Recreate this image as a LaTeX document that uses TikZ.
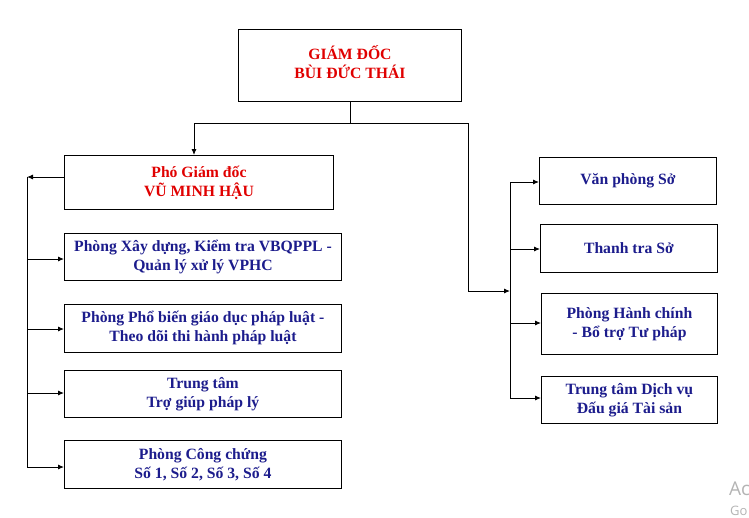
\documentclass[tikz,border=0pt]{standalone}
\usepackage{fontspec}
\setmainfont{Liberation Serif}
\newfontfamily\wmfont{Open Sans}
\usetikzlibrary{arrows.meta}
\definecolor{navy}{HTML}{1C1C8C}
\definecolor{redt}{HTML}{E00000}
\definecolor{wm}{HTML}{B4B4B4}
\tikzset{
  boxfont/.style={font=\bfseries\fontsize{15.7}{19}\selectfont},
  box/.style={draw=black, line width=0.9pt, inner sep=0pt, boxfont, text=navy, align=center, anchor=north west},
  redbox/.style={box, text=redt},
  conn/.style={line width=0.9pt, draw=black},
  arr/.style={conn, -{Latex[length=6pt,width=5pt]}},
}
\begin{document}
\begin{tikzpicture}[x=1pt,y=-1pt]
\useasboundingbox (0,0) rectangle (749,517);
% top
\node[redbox, minimum width=223pt, minimum height=72pt,
  label={[boxfont, text=redt, align=center, inner sep=0pt, yshift=3.5pt]center:GIÁM ĐỐC\\BÙI ĐỨC THÁI}] (gd) at (238,29) {};
\node[redbox, minimum width=269pt, minimum height=54pt] (pgd) at (64,155) {Phó Giám đốc\\VŨ MINH HẬU};
% left column
\node[box, minimum width=277pt, minimum height=47pt] (b1) at (64,233) {Phòng Xây dựng, Kiểm tra VBQPPL -\\Quản lý xử lý VPHC};
\node[box, minimum width=277pt, minimum height=48pt] (b2) at (64,304) {Phòng Phổ biến giáo dục pháp luật -\\Theo dõi thi hành pháp luật};
\node[box, minimum width=277pt, minimum height=47pt] (b3) at (64,370) {Trung tâm\\Trợ giúp pháp lý};
\node[box, minimum width=277pt, minimum height=48pt] (b4) at (64,440) {Phòng Công chứng\\Số 1, Số 2, Số 3, Số 4};
% right column
\node[box, minimum width=177pt, minimum height=47pt] (r1) at (539,157) {Văn phòng Sở};
\node[box, minimum width=177pt, minimum height=48pt] (r2) at (540,224) {Thanh tra Sở};
\node[box, minimum width=176pt, minimum height=61pt] (r3) at (541,293) {Phòng Hành chính\\- Bổ trợ Tư pháp};
\node[box, minimum width=176pt, minimum height=47pt] (r4) at (541,376) {Trung tâm Dịch vụ\\Đấu giá Tài sản};
% coordinates
\coordinate (j) at (350,123);
\coordinate (jl) at (194,123);
\coordinate (jr) at (468,123);
\coordinate (rb) at (468,291);
\coordinate (lbus) at (27,177);
\coordinate (lbusend) at (27,467);
\coordinate (rbtop) at (510,182);
\coordinate (rbbot) at (510,398);
% connectors
\draw[conn] (gd.south -| j) -- (j);
\draw[conn] (jl) -- (jr) -- (rb);
\draw[arr] (jl) -- (jl |- pgd.north);
\draw[arr] (rb) -- (rb -| rbtop);
\draw[arr] (pgd.west |- lbus) -- (lbus);
\draw[conn] (lbus) -- (lbusend);
\draw[arr] (27,259) -- (b1.west |- 0,259);
\draw[arr] (27,329) -- (b2.west |- 0,329);
\draw[arr] (27,393) -- (b3.west |- 0,393);
\draw[arr] (lbusend) -- (lbusend -| b4.west);
\draw[conn] (rbtop) -- (rbbot);
\draw[arr] (rbtop) -- (rbtop -| r1.west);
\draw[arr] (510,249) -- (r2.west |- 0,249);
\draw[arr] (510,323) -- (r3.west |- 0,323);
\draw[arr] (rbbot) -- (rbbot -| r4.west);
% watermark
\node[anchor=base west, text=wm, font=\wmfont\fontsize{19}{19}\selectfont, inner sep=0pt] (wm1) at (729,495) {Ac};
\node[anchor=base west, text=wm, font=\wmfont\fontsize{13}{13}\selectfont, inner sep=0pt] (wm2) at (730,515) {Go};
\end{tikzpicture}
\end{document}
